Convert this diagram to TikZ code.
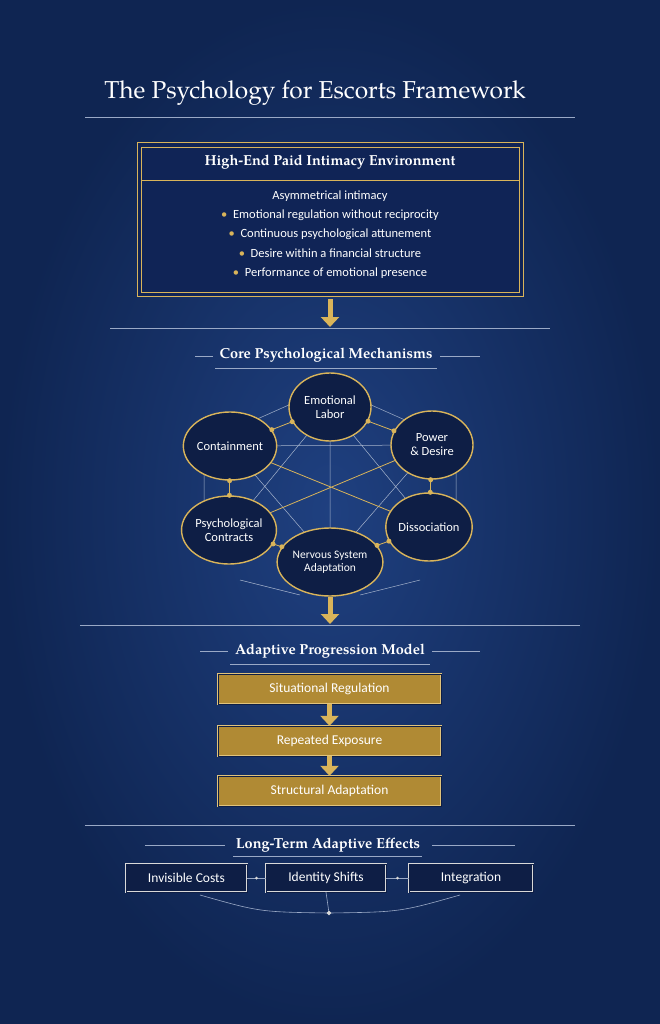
\documentclass[tikz,border=0pt]{standalone}
\usepackage{fontspec}
\setmainfont{TeX Gyre Pagella}
\newfontfamily\sans{Carlito}
\usetikzlibrary{shapes.geometric,arrows.meta}
\definecolor{gold}{HTML}{D9B45A}
\definecolor{navy}{HTML}{0E1E45}
\definecolor{bgc}{HTML}{1F4080}
\definecolor{bge}{HTML}{0F2552}
\definecolor{boxfill}{HTML}{102456}
\definecolor{goldfill}{HTML}{B08A34}
\begin{document}
\begin{tikzpicture}[x=1pt,y=-1pt,
  circ/.style={ellipse,draw=gold,line width=1.4pt,fill=navy,text=white,font=\sans\fontsize{12.5}{14}\selectfont,align=center,minimum width=82pt,minimum height=68pt,inner sep=0pt},
  web/.style={draw=white!60!bgc,line width=0.5pt},
  gweb/.style={draw=gold,line width=0.8pt},
  gdot/.style={circle,fill=gold,inner sep=0pt,minimum size=5pt},
  garrow/.style={-{Triangle[width=18pt,length=10pt]},line width=5pt,draw=gold},
  sep/.style={draw=white!55!bgc,line width=0.6pt},
  head/.style={text=white,font=\bfseries\fontsize{14.5}{16}\selectfont},
  prog/.style={draw=gold!80!white,double=navy,double distance=1pt,fill=goldfill,text=white,font=\sans\fontsize{13.5}{15}\selectfont,minimum width=223pt,minimum height=30pt},
  eff/.style={draw=white!70!gray,double=navy,double distance=1pt,fill=navy,text=white,font=\sans\fontsize{13.5}{15}\selectfont,minimum height=28pt},
  bul/.style={text=white,font=\sans\fontsize{12.5}{14}\selectfont}]
\shade[inner color=bgc,outer color=bge] (0,0) rectangle (660,1024);
\useasboundingbox (0,0) rectangle (660,1024);
\node[text=white,font=\fontsize{24.5}{28}\selectfont] (title) at (315,93) {The Psychology for Escorts Framework};
\draw[sep] (85,117) -- (575,117);
% box 1
\node[draw=gold,line width=1pt,fill=boxfill,minimum width=386pt,minimum height=153pt] (env) at (330,219.5) {};
\draw[gold,line width=0.6pt] (141,147) rectangle (519,292);
\node[head] (envh) at (330,162) {High-End Paid Intimacy Environment};
\draw[gold,line width=0.6pt] (141,180) -- (519,180);
\node[bul] (b0) at (330,196) {Asymmetrical intimacy};
\node[bul] (b1) at (330,215) {\textcolor{gold}{•}\ \ Emotional regulation without reciprocity};
\node[bul] (b2) at (330,234) {\textcolor{gold}{•}\ \ Continuous psychological attunement};
\node[bul] (b3) at (330,253) {\textcolor{gold}{•}\ \ Desire within a financial structure};
\node[bul] (b4) at (330,273) {\textcolor{gold}{•}\ \ Performance of emotional presence};
\coordinate (a1s) at (330,299); \coordinate (a1e) at (330,327);
\draw[garrow] (a1s) -- (a1e);
\draw[sep] (110,328) -- (550,328);
\node[head] (core) at (326,355) {Core Psychological Mechanisms};
\draw[sep] (195,356) -- (213,356) (440,356) -- (480,356) (215,368) -- (437,368);
% network
\coordinate (EL) at (330,407); \coordinate (CO) at (230,446); \coordinate (PD) at (432,445);
\coordinate (PC) at (229,530); \coordinate (DI) at (429,527); \coordinate (NS) at (330,562);
\draw[web] (EL) -- (NS) (CO) -- (PD) (EL) -- (PC) (EL) -- (DI) (CO) -- (NS) (PD) -- (NS)
  (204,446) -- (204,530) (456,445) -- (456,527) (255,420) -- (300,400) (360,400) -- (405,420)
  (240,580) -- (300,595) (420,580) -- (360,595);
\draw[gweb] (CO) -- (DI) (PD) -- (PC);
\node[circ] (el) at (EL) {Emotional\\Labor};
\node[circ] (co) at (CO) {Containment};
\node[circ] (pd) at (PD) {Power\\\& Desire};
\node[circ] (pc) at (PC) {Psychological\\Contracts};
\node[circ] (di) at (DI) {Dissociation};
\node[circ,minimum width=90pt,font=\sans\fontsize{11.5}{13}\selectfont] (ns) at (NS) {Nervous System\\Adaptation};
\foreach \a/\b in {co/el,el/pd,co/pc,pd/di,pc/ns,ns/di}{
  \draw[gweb] (\a) -- (\b);
  \path (\a) -- (\b) node[gdot,pos=0] {} node[gdot,pos=1] {};
}
\coordinate (a2s) at (330,597); \coordinate (a2e) at (330,624);
\draw[garrow] (a2s) -- (a2e);
\draw[sep] (80,625) -- (580,625);
\node[head] (apm) at (330,651) {Adaptive Progression Model};
\draw[sep] (200,651) -- (228,651) (432,651) -- (480,651) (230,664) -- (430,664);
\node[prog] (p1) at (329.5,689) {Situational Regulation};
\node[prog] (p2) at (329.5,741) {Repeated Exposure};
\node[prog] (p3) at (329.5,791) {Structural Adaptation};
\draw[garrow] (p1) -- (p2);
\draw[garrow] (p2) -- (p3);
\draw[sep] (85,825) -- (575,825);
\node[head] (lt) at (328,845) {Long-Term Adaptive Effects};
\draw[sep] (145,845) -- (225,845) (432,845) -- (515,845) (233,856) -- (422,856);
\node[eff,minimum width=121pt] (e1) at (186.5,878) {Invisible Costs};
\node[eff,minimum width=120pt] (e2) at (326,878) {Identity Shifts};
\node[eff,minimum width=124pt] (e3) at (471,878) {Integration};
\draw[sep] (e1) -- (e2) node[midway,circle,fill=white!70!gray,inner sep=0pt,minimum size=3pt] {};
\draw[sep] (e2) -- (e3) node[midway,circle,fill=white!70!gray,inner sep=0pt,minimum size=3pt] {};
\coordinate (cl) at (200,895); \coordinate (cr) at (460,895); \coordinate (cm) at (329,913);
\draw[sep] (cl) .. controls (260,912) .. (cm) .. controls (400,912) .. (cr);
\draw[sep] (e2.south) -- (cm);
\node[diamond,fill=white!70!gray,inner sep=0pt,minimum size=5pt] (cd) at (cm) {};
\end{tikzpicture}
\end{document}
